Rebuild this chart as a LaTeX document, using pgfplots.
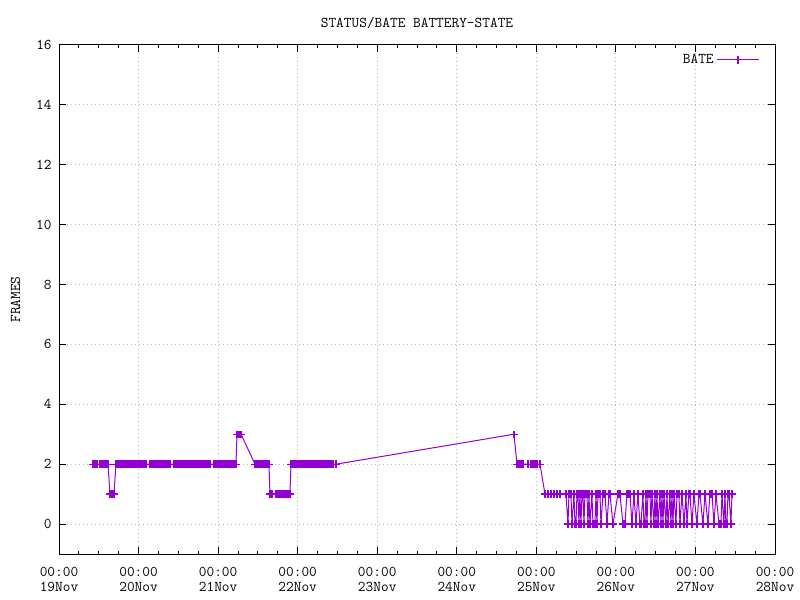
\documentclass[border=0pt]{standalone}
\usepackage{fontspec}
\usepackage{pgfplots}
\pgfplotsset{compat=1.18}
\definecolor{gpviolet}{HTML}{9400D3}
\begin{document}
\begin{tikzpicture}
\path[use as bounding box] (0,0) rectangle (600pt,450pt);
\begin{axis}[
    at={(44.25pt,34.5pt)}, anchor=south west,
    scale only axis,
    width=537pt, height=381.75pt,
    font=\ttfamily\fontsize{11.2}{11.25}\selectfont,
    title={STATUS/BATE BATTERY-STATE},
    title style={yshift=3pt},
    ylabel={FRAMES},
    ylabel style={yshift=5pt},
    xmin=0, xmax=9,
    ymin=-1, ymax=16,
    xtick={0,...,9},
    xticklabels={{00:00\\19Nov},{00:00\\20Nov},{00:00\\21Nov},{00:00\\22Nov},{00:00\\23Nov},{00:00\\24Nov},{00:00\\25Nov},{00:00\\26Nov},{00:00\\27Nov},{00:00\\28Nov}},
    xticklabel style={align=center, yshift=-6pt},
    minor x tick num=3,
    ytick={0,2,...,16},
    yticklabel style={xshift=-2pt},
    /pgf/number format/assume math mode=true,
    tick align=inside,
    major tick length=5pt,
    minor tick length=2.5pt,
    tick style={black, line width=0.75pt},
    axis line style={black, line width=0.75pt},
    grid=major,
    grid style={gray!55, line width=0.75pt, dash pattern=on 0.75pt off 2.25pt},
    legend style={at={(0.985,0.993)}, anchor=north east, draw=none, fill=none, font=\ttfamily\fontsize{11.2}{11.25}\selectfont},
    legend plot pos=right,
    legend cell align=right,
    legend image code/.code={\draw[mark repeat=2,mark phase=2] plot coordinates {(0pt,0pt) (16pt,0pt) (32pt,0pt)};},
]
\addplot[color=gpviolet, line width=0.75pt, mark=+, mark size=2.8pt, mark options={line width=1pt}] coordinates {
(0.427,2) (0.453,2) (0.478,2) (0.515,2) (0.540,2) (0.566,2) (0.591,2) (0.616,2)
(0.641,1) (0.666,1) (0.691,1)
(0.716,2) (0.742,2) (0.767,2) (0.792,2) (0.817,2) (0.842,2) (0.867,2) (0.892,2)
(0.918,2) (0.943,2) (0.968,2) (0.993,2) (1.018,2) (1.043,2) (1.068,2) (1.094,2)
(1.144,2) (1.169,2) (1.194,2) (1.219,2) (1.244,2) (1.269,2) (1.295,2) (1.320,2)
(1.345,2) (1.370,2) (1.395,2) (1.445,2) (1.471,2) (1.496,2) (1.521,2) (1.546,2)
(1.571,2) (1.596,2) (1.621,2) (1.647,2) (1.672,2) (1.697,2) (1.722,2) (1.747,2)
(1.772,2) (1.797,2) (1.822,2) (1.848,2) (1.873,2) (1.898,2) (1.948,2) (1.973,2)
(1.999,2) (2.024,2) (2.049,2) (2.074,2) (2.099,2) (2.124,2) (2.149,2) (2.174,2)
(2.200,2) (2.225,2)
(2.237,3) (2.262,3) (2.288,3)
(2.464,2) (2.489,2) (2.514,2) (2.539,2) (2.564,2) (2.589,2) (2.614,2) (2.639,2)
(2.652,1) (2.677,1) (2.727,1) (2.752,1) (2.778,1) (2.803,1) (2.828,1) (2.853,1)
(2.878,1) (2.903,1)
(2.916,2) (2.941,2) (2.966,2) (2.991,2) (3.017,2) (3.042,2) (3.067,2) (3.092,2)
(3.117,2) (3.142,2) (3.167,2) (3.193,2) (3.218,2) (3.243,2) (3.268,2) (3.293,2)
(3.318,2) (3.343,2) (3.369,2) (3.394,2) (3.419,2) (3.444,2) (3.482,2)
(5.719,3)
(5.757,2) (5.782,2) (5.807,2) (5.832,2) (5.895,2) (5.933,2) (5.958,2) (5.983,2)
(6.008,2) (6.046,2)
(6.109,1) (6.146,1) (6.184,1) (6.222,1) (6.259,1) (6.297,1) (6.372,1)
(6.398,0) (6.410,1) (6.435,1) (6.448,0) (6.473,1) (6.486,0) (6.498,0) (6.511,1)
(6.523,1) (6.536,0) (6.548,1) (6.561,0) (6.574,1) (6.586,1) (6.599,0) (6.611,1)
(6.636,1) (6.649,0) (6.662,1) (6.674,0) (6.699,1) (6.712,0) (6.724,0) (6.737,0)
(6.750,1) (6.762,0) (6.775,1) (6.800,1) (6.812,0) (6.838,1) (6.863,1) (6.888,0)
(6.913,1) (6.926,1) (6.963,0) (7.026,1) (7.051,1) (7.089,0) (7.114,0) (7.139,1)
(7.164,1) (7.177,1) (7.202,0) (7.227,1) (7.252,0) (7.277,1) (7.303,0) (7.315,0)
(7.340,1) (7.353,0) (7.365,0) (7.378,1) (7.391,0) (7.403,1) (7.428,1) (7.441,0)
(7.453,1) (7.479,0) (7.491,1) (7.504,0) (7.516,1) (7.529,0) (7.554,1) (7.567,0)
(7.579,1) (7.592,0) (7.604,1) (7.629,0) (7.642,1) (7.655,0) (7.680,1) (7.692,0)
(7.705,1) (7.717,0) (7.730,1) (7.755,0) (7.768,1) (7.793,1) (7.805,0) (7.831,1)
(7.856,0) (7.881,1) (7.893,0) (7.918,1) (7.931,1) (7.956,0) (7.981,1) (8.019,0)
(8.044,1) (8.057,1) (8.094,0) (8.120,1) (8.157,0) (8.182,1) (8.208,1) (8.233,0)
(8.258,1) (8.296,0) (8.308,0) (8.321,0) (8.333,1) (8.358,0) (8.371,1) (8.383,0)
(8.396,0) (8.409,1) (8.421,1) (8.446,0) (8.459,1)
};
\addlegendentry{BATE}
\end{axis}
\end{tikzpicture}
\end{document}
